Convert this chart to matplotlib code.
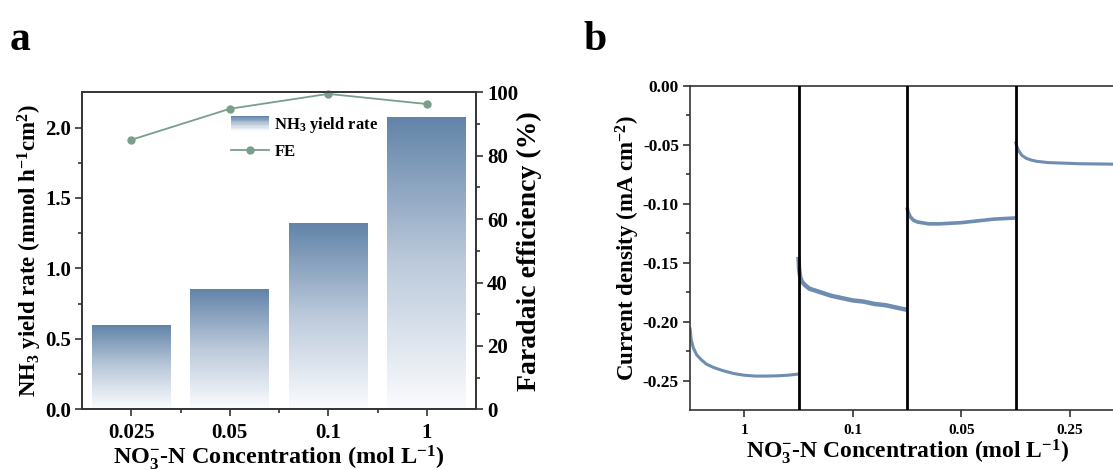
import numpy as np
import matplotlib
matplotlib.use("Agg")
import matplotlib.pyplot as plt
from matplotlib.colors import LinearSegmentedColormap
from matplotlib.legend_handler import HandlerBase
from matplotlib.patches import Rectangle
from matplotlib.lines import Line2D

# ---------------- data ----------------
conc_labels = ["0.025", "0.05", "0.1", "1"]
nh3_yield = [0.59, 0.85, 1.316, 2.07]
fe_values = [85.0, 94.8, 99.5, 96.3]

it_labels = ["1", "0.1", "0.05", "0.25"]
# i-t traces, time in segment units (0-1)
seg1_t = [0, 0.01, 0.03, 0.06, 0.1, 0.15, 0.22, 0.3, 0.4, 0.5, 0.6, 0.7, 0.8, 0.9, 1.0]
seg1_j = [-0.205, -0.215, -0.222, -0.228, -0.232, -0.236, -0.239, -0.2415, -0.244,
          -0.2455, -0.2462, -0.2462, -0.246, -0.2455, -0.2445]
seg2_t = [0, 0.005, 0.015, 0.03, 0.06, 0.1, 0.2, 0.3, 0.4, 0.5, 0.6, 0.7, 0.8, 0.9, 1.0]
seg2_j = [-0.145, -0.155, -0.162, -0.166, -0.169, -0.172, -0.175, -0.178, -0.180,
          -0.182, -0.183, -0.185, -0.186, -0.188, -0.190]
seg3_t = [0, 0.01, 0.03, 0.06, 0.1, 0.2, 0.3, 0.4, 0.5, 0.6, 0.7, 0.8, 0.9, 1.0]
seg3_j = [-0.103, -0.107, -0.111, -0.114, -0.1155, -0.117, -0.117, -0.1165, -0.116,
          -0.115, -0.114, -0.113, -0.1125, -0.112]
seg4_t = [0, 0.01, 0.03, 0.06, 0.1, 0.15, 0.2, 0.3, 0.45, 0.6, 0.8, 1.0]
seg4_j = [-0.047, -0.051, -0.055, -0.059, -0.0614, -0.063, -0.064, -0.065, -0.0655,
          -0.066, -0.0662, -0.0665]

# ---------------- style ----------------
plt.rcParams["font.family"] = ["Liberation Serif", "DejaVu Serif"]
plt.rcParams["font.weight"] = "bold"
plt.rcParams["axes.labelweight"] = "bold"
plt.rcParams["mathtext.fontset"] = "custom"
plt.rcParams["mathtext.rm"] = "Liberation Serif:bold"
plt.rcParams["mathtext.bf"] = "Liberation Serif:bold"
plt.rcParams["mathtext.it"] = "Liberation Serif:bold"
plt.rcParams["mathtext.default"] = "rm"

bar_top = "#6284a9"
fe_color = "#7a9e8c"
trace_color = "#6f8db0"
spine_col = "#333333"

bar_cmap = LinearSegmentedColormap.from_list("bar", ["#fbfcfe", "#bccadb", bar_top])


class GradientHandler(HandlerBase):
    def create_artists(self, legend, orig_handle, xdescent, ydescent, width, height,
                       fontsize, trans):
        n = 12
        arts = []
        for k in range(n):
            c = bar_cmap(1 - k / (n - 1))
            r = Rectangle((-xdescent, -ydescent + height * (1 - (k + 1) / n)),
                          width, height / n, facecolor=c, edgecolor="none",
                          transform=trans)
            arts.append(r)
        return arts


fig = plt.figure(figsize=(11.13, 4.70), dpi=100)

# ---------------- panel a ----------------
ax = fig.add_axes([82 / 1113, 1 - 409.3 / 470, 394 / 1113, 317 / 470])
x = np.arange(len(conc_labels))
grad = np.linspace(0, 1, 256).reshape(-1, 1)
for xi, h in zip(x, nh3_yield):
    ax.imshow(grad, extent=[xi - 0.4, xi + 0.4, 0, h], origin="lower", aspect="auto",
              cmap=bar_cmap, zorder=1)
ax.set_xlim(-0.5, 3.5)
ax.set_ylim(0, 2.25)
ax.set_xticks(x)
ax.set_xticklabels(conc_labels)
ax.set_xticks(x[:-1] + 0.5, minor=True)
ax.set_yticks([0, 0.5, 1.0, 1.5, 2.0])
ax.set_yticks(np.arange(0.25, 2.25, 0.5), minor=True)
ax.tick_params(axis="both", which="major", direction="out", length=5, width=1.2,
               labelsize=15, colors=spine_col, labelcolor="black")
ax.tick_params(axis="both", which="minor", direction="out", length=3, width=1.2,
               colors=spine_col)
ax.tick_params(axis="x", pad=5)
ax.tick_params(axis="y", pad=3)
for s in ax.spines.values():
    s.set_color(spine_col)
    s.set_linewidth(1.2)
ax.set_ylabel(r"NH$_3$ yield rate (mmol h$^{-1}$cm$^2$)", fontsize=16.5)
ax.yaxis.set_label_coords(-0.097, 0.5)
ax.set_xlabel(r"NO$_3^{-}$-N Concentration (mol L$^{-1}$)", fontsize=17.5, labelpad=0)

ax2 = ax.twinx()
ax2.plot(x, fe_values, color=fe_color, lw=1.3, marker="o", ms=5,
         markerfacecolor=fe_color, markeredgecolor=fe_color, clip_on=False)
ax2.set_ylim(0, 100)
ax2.set_yticks([0, 20, 40, 60, 80, 100])
ax2.set_yticks(np.arange(10, 100, 20), minor=True)
ax2.tick_params(axis="y", which="major", direction="out", length=5, width=1.2,
                labelsize=15, colors=spine_col, labelcolor="black", pad=3)
ax2.tick_params(axis="y", which="minor", direction="out", length=3, width=1.2,
                colors=spine_col)
for s in ax2.spines.values():
    s.set_color(spine_col)
    s.set_linewidth(1.2)
ax2.set_ylabel("Faradaic efficiency (%)", fontsize=20)
ax2.yaxis.set_label_coords(1.104, 0.5)

bar_handle = Rectangle((0, 0), 1, 1)
fe_handle = Line2D([], [], color=fe_color, lw=1.3, marker="o", ms=5)
ax2.legend([bar_handle, fe_handle], [r"NH$_3$ yield rate", "FE"],
           handler_map={Rectangle: GradientHandler()}, loc="upper left",
           bbox_to_anchor=(0.34, 0.975), frameon=False, fontsize=12,
           handlelength=2.3, handleheight=1.1, handletextpad=0.3, labelspacing=0.45)

fig.text(10 / 1113, 1 - 50 / 470, "a", fontsize=30, fontweight="bold")

# ---------------- panel b ----------------
bx = fig.add_axes([690 / 1113, 1 - 410 / 470, 434 / 1113, 324 / 470])
segs = [(seg1_t, seg1_j, 2.2), (seg2_t, seg2_j, 3.2), (seg3_t, seg3_j, 2.6),
        (seg4_t, seg4_j, 2.2)]
for k, (tt, jj, lw) in enumerate(segs):
    bx.plot(np.array(tt) + k, jj, color=trace_color, lw=lw, solid_capstyle="butt")
for b in [1, 2, 3]:
    bx.axvline(b, color="black", lw=2.0, zorder=3)
bx.set_xlim(0, 4)
bx.set_ylim(-0.275, 0)
bx.set_xticks(np.arange(4) + 0.5)
bx.set_xticklabels(it_labels)
bx.set_yticks([0, -0.05, -0.10, -0.15, -0.20, -0.25])
bx.set_yticklabels(["0.00", "-0.05", "-0.10", "-0.15", "-0.20", "-0.25"])
bx.set_yticks(np.arange(-0.025, -0.275, -0.05), minor=True)
bx.tick_params(axis="both", which="major", direction="out", length=5, width=1.2,
               colors=spine_col, labelcolor="black")
bx.tick_params(axis="y", which="major", labelsize=12.5, pad=3)
bx.tick_params(axis="x", which="major", labelsize=11, pad=5)
bx.tick_params(axis="y", which="minor", direction="out", length=3, width=1.2,
               colors=spine_col)
for s in bx.spines.values():
    s.set_color(spine_col)
    s.set_linewidth(1.2)
bx.set_ylabel(r"Current density (mA cm$^{-2}$)", fontsize=16.5)
bx.yaxis.set_label_coords(-0.110, 0.5)
bx.set_xlabel(r"NO$_3^{-}$-N Concentration (mol L$^{-1}$)", fontsize=17, labelpad=0)

fig.text(583 / 1113, 1 - 50 / 470, "b", fontsize=30, fontweight="bold")

fig.savefig("out.png", dpi=100)
